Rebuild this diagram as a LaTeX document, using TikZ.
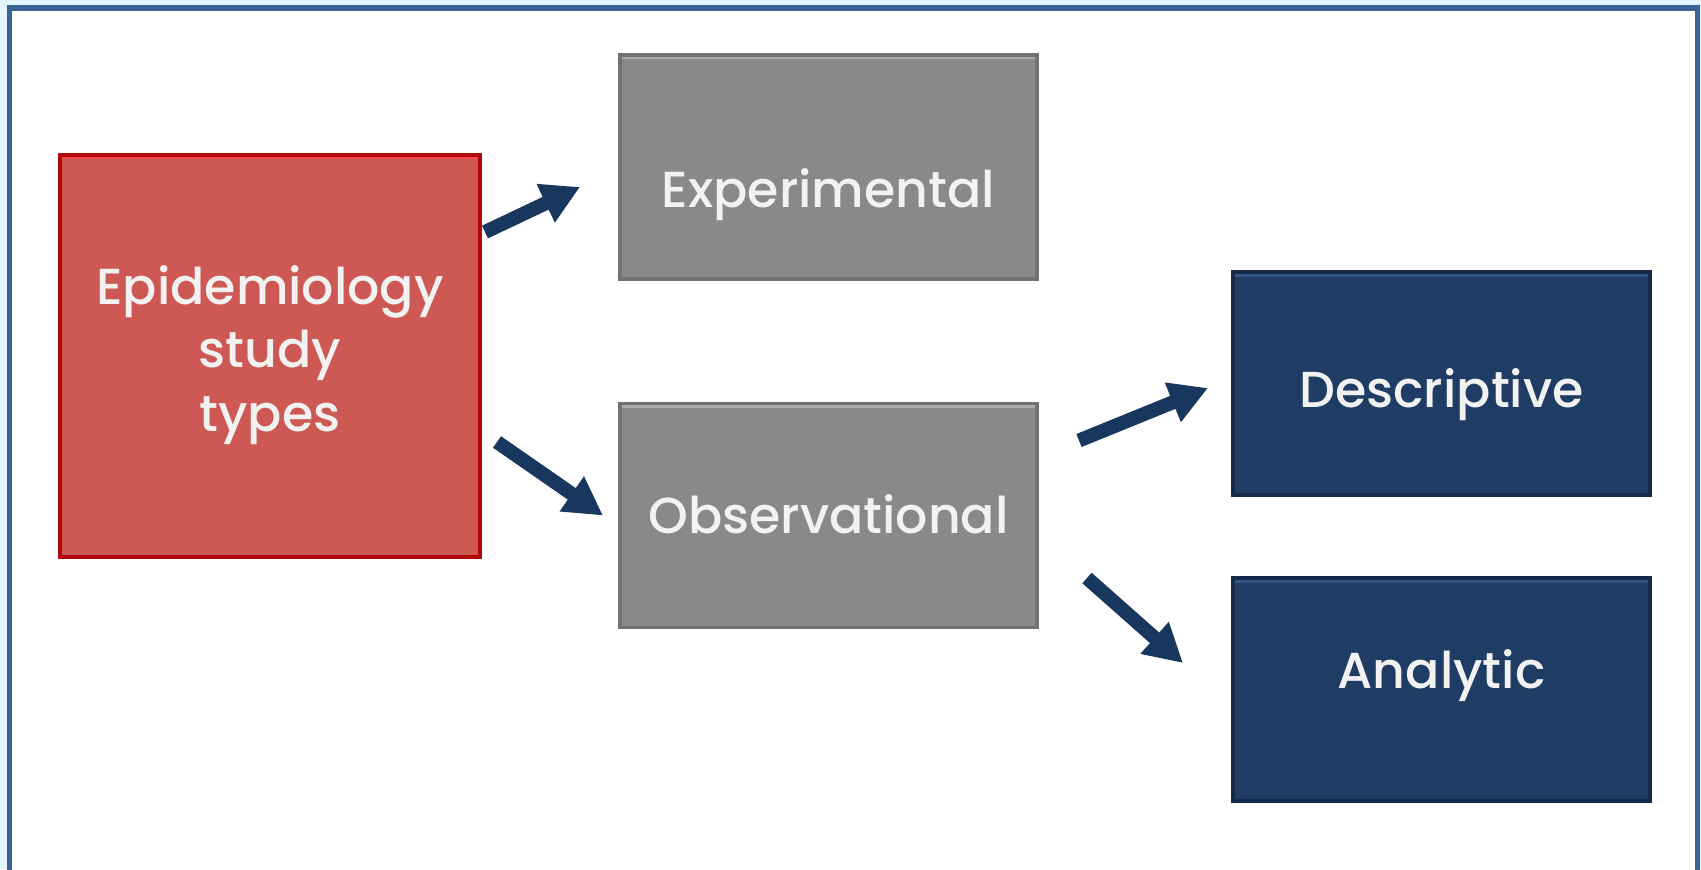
\documentclass[tikz,border=0pt]{standalone}
\usepackage{fontspec}
\setmainfont{Poppins}
\newfontfamily\boxfont{Poppins Medium}
\usepackage{xcolor}
\usetikzlibrary{arrows.meta}

\definecolor{epired}{HTML}{CD5854}
\definecolor{epiredline}{HTML}{B00808}
\definecolor{epiredtop}{HTML}{F04A4A}
\definecolor{boxgray}{HTML}{898989}
\definecolor{boxgrayline}{HTML}{727272}
\definecolor{boxgraytop}{HTML}{ABABAB}
\definecolor{boxnavy}{HTML}{1F3C64}
\definecolor{boxnavyline}{HTML}{142A48}
\definecolor{boxnavytop}{HTML}{325482}
\definecolor{arrnavy}{HTML}{17375E}
\definecolor{frameblue}{HTML}{3B6494}
\definecolor{outerblue}{HTML}{E4F5FC}
\definecolor{labelwhite}{HTML}{F2F2F2}

\begin{document}
\begin{tikzpicture}[thick,
    main/.style = {draw, line width=1pt, outer sep=0pt, inner sep=0pt, text=labelwhite,
                   align=center, font=\boxfont\fontsize{14.4}{18}\selectfont},
    toplight/.style = {path picture={\fill[#1] (path picture bounding box.north west)
                   rectangle ([yshift=-0.045cm]path picture bounding box.north east);}},
    redbox/.style = {main, fill=epired, draw=epiredline, toplight=epiredtop,
                     minimum width=4.2cm, minimum height=4.02cm},
    graybox/.style = {main, fill=boxgray, draw=boxgrayline, toplight=boxgraytop,
                      minimum width=4.17cm, minimum height=2.24cm},
    navybox/.style = {main, fill=boxnavy, draw=boxnavyline, toplight=boxnavytop,
                      minimum width=4.17cm, minimum height=2.23cm},
    arr/.style = {draw=arrnavy, line width=0.14cm, -{Triangle[width=0.4cm, length=0.38cm]}}]
      % frame
      \path[use as bounding box, clip] (0,0) rectangle (17.01,-8.69);
      \fill[outerblue] (0,0) rectangle (17.01,-8.69);
      \fill[white] (0.095,-0.08) rectangle (16.975,-8.8);
      \draw[frameblue, line width=0.055cm] (0.095,-8.8) -- (0.095,-0.08) -- (16.975,-0.08) -- (16.975,-8.8);
      % boxes
      \node[redbox, text depth=0.15cm] (1) at (2.70,-3.56) {Epidemiology\\study\\types};
      \node[graybox, text height=0.93cm, text depth=0.13cm] (2) at (8.285,-1.67) {Experimental};
      \node[graybox, text height=0.49cm, text depth=0.13cm] (3) at (8.285,-5.155) {Observational};
      \node[navybox, text height=0.61cm, text depth=0.13cm] (4) at (14.415,-3.835) {Descriptive};
      \node[navybox, text height=0.38cm, text depth=0.40cm] (5) at (14.415,-6.895) {Analytic};
      % arrows
      \draw[arr] ([shift={(0.05,-0.77)}]1.north east) -- ([shift={(-0.4,-0.2)}]2.west);
      \draw[arr] ([shift={(0.17,-0.86)}]1.east) -- ([shift={(-0.17,0)}]3.west);
      \draw[arr] ([shift={(0.42,0.75)}]3.east) -- ([shift={(-0.25,-0.045)}]4.west);
      \draw[arr] ([shift={(0.5,-0.625)}]3.east) -- ([shift={(-0.5,0.265)}]5.west);
\end{tikzpicture}
\end{document}
